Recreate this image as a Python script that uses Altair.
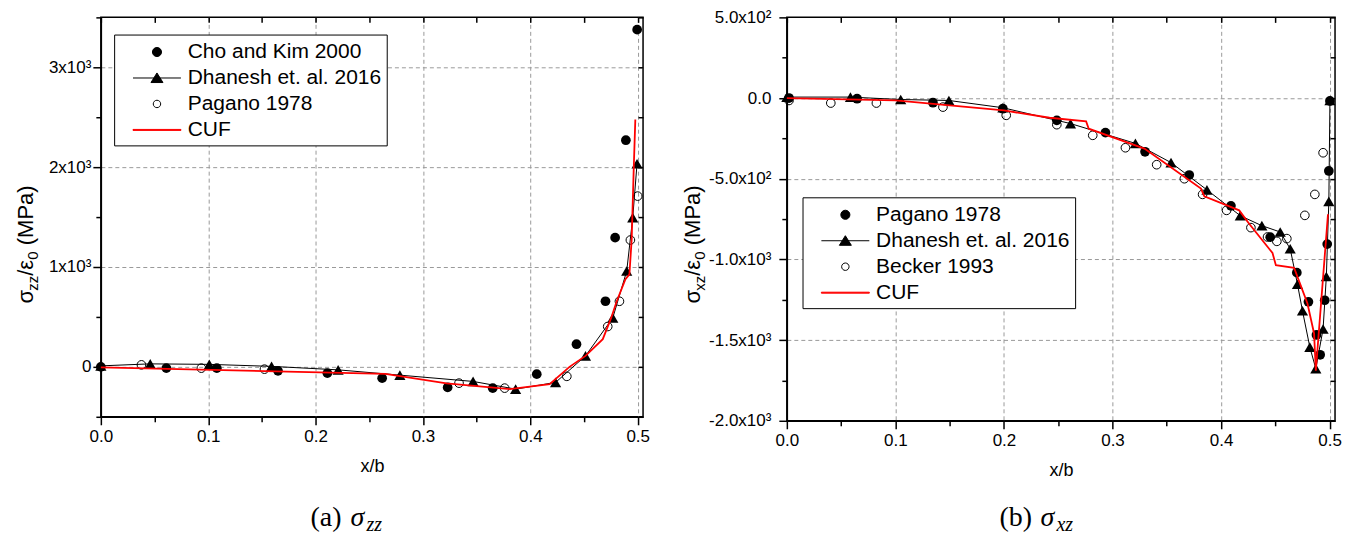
import altair as alt
import pandas as pd

# ---------------- data: panel (a) sigma_zz ----------------
a_cho_x = [0.0, 0.061, 0.108, 0.165, 0.211, 0.262, 0.323, 0.365, 0.406, 0.443, 0.470, 0.479, 0.489, 0.4995]
a_cho_y = [0, -13, -13, -40, -63, -113, -206, -213, -73, 227, 657, 1294, 2270, 3377]

a_dh_x = [0.0, 0.046, 0.101, 0.159, 0.221, 0.2785, 0.3467, 0.3863, 0.4235, 0.4514, 0.4768, 0.4898, 0.4954, 0.4994]
a_dh_y = [10, 30, 25, 5, -30, -83, -146, -223, -156, 110, 490, 960, 1494, 2034]

a_pag_x = [0.0378, 0.0936, 0.1524, 0.3336, 0.3761, 0.434, 0.4721, 0.483, 0.4932, 0.5]
a_pag_y = [20, -13, -23, -163, -213, -95, 404, 657, 1270, 1710]

a_cuf_x = [0.0, 0.265, 0.322, 0.381, 0.418, 0.4365, 0.4514, 0.4675, 0.4753, 0.4805, 0.4886, 0.4923, 0.4944, 0.4963, 0.4978]
a_cuf_y = [-5, -70, -166, -223, -173, 0, 110, 277, 490, 657, 877, 927, 1277, 1977, 2477]

a_names = ["Cho and Kim 2000", "Dhanesh et. al. 2016", "Pagano 1978", "CUF"]

# ---------------- data: panel (b) sigma_xz ----------------
b_pag_x = [0.002, 0.0647, 0.1346, 0.199, 0.2487, 0.2935, 0.33, 0.3707, 0.4091, 0.4453, 0.4698, 0.4805,
           0.4879, 0.4913, 0.4955, 0.4978, 0.4993, 0.5003]
b_pag_y = [0, -4, -29, -66, -138, -214, -333, -477, -668, -862, -1082, -1263, -1468, -1591, -1253, -905, -452, -18]

b_dh_x = [0.0, 0.0586, 0.1049, 0.1493, 0.199, 0.2613, 0.3211, 0.3539, 0.387, 0.4177, 0.4376, 0.4545, 0.4637,
          0.4704, 0.475, 0.4818, 0.4873, 0.494, 0.497, 0.4993, 0.5003]
b_dh_y = [6, 6, -9, -15, -60, -158, -281, -400, -569, -729, -791, -830, -934, -1154, -1318, -1544, -1677,
          -1431, -1106, -640, -15]

b_bk_x = [0.002, 0.0405, 0.0825, 0.1438, 0.2021, 0.2487, 0.2818, 0.3119, 0.3407, 0.3662, 0.383, 0.4051,
          0.4275, 0.4428, 0.4514, 0.4606, 0.4772, 0.4864, 0.494]
b_bk_y = [-15, -31, -31, -56, -107, -165, -231, -308, -413, -500, -597, -696, -803, -861, -888, -871, -727, -597, -339]

b_cuf_x = [0.0, 0.1, 0.2, 0.242, 0.2757, 0.2781, 0.3294, 0.3815, 0.3846, 0.4167, 0.4259, 0.4474, 0.4505,
           0.4673, 0.4704, 0.4796, 0.4857, 0.4873, 0.4985]
b_cuf_y = [0, -15, -77, -122, -145, -190, -313, -561, -609, -696, -779, -960, -1036, -1052, -1108, -1273,
           -1459, -1690, -720]

b_names = ["Pagano 1978", "Dhanesh et. al. 2016", "Becker 1993", "CUF"]

x_ticks = [round(i * 0.05, 2) for i in range(11)]
a_y_ticks = list(range(-500, 3501, 500))
b_y_ticks = list(range(-2000, 501, 250))

# ---------------- style ----------------
FONT = "Liberation Sans, Arial, Helvetica, sans-serif"
SERIF = "Liberation Serif, Times New Roman, serif"
RED = "#ff0000"
GRID = "#9a9a9a"

# legend symbols (path units: 1 unit = 12 px)
SYM_FILLED = "M0.38,0A0.38,0.38,0,1,1,-0.38,0A0.38,0.38,0,1,1,0.38,0Z"
SYM_OPEN = "M0.31,0A0.31,0.31,0,1,1,-0.31,0A0.31,0.31,0,1,1,0.31,0Z"
SYM_TRI_LINE = "M-2,0H2M0,-0.42L0.5,0.38L-0.5,0.38Z"
SYM_LINE = "M-2,-0.04H2V0.04H-2Z"


def xy(xs, ys):
    return pd.DataFrame({"x": xs, "y": ys})


def major_x(expr_v="datum.value"):
    return f"abs({expr_v}*10 - round({expr_v}*10)) < 0.001"


def main_x_axis():
    return alt.Axis(
        values=x_ticks,
        labelExpr=f"{major_x()} ? format(datum.value, '.1f') : ''",
        tickSize={"condition": {"test": major_x(), "value": 8}, "value": 5},
        grid=True,
        gridDash=[4, 3],
        gridColor=GRID,
        gridWidth=1,
        gridOpacity={"condition": {"test": f"{major_x()} && datum.value > 0.001", "value": 1}, "value": 0},
        domainColor="black",
        domainWidth=1.5,
        tickColor="black",
        tickWidth=1.5,
        labelFont=FONT,
        labelFontSize=17,
        labelColor="black",
        labelPadding=4,
        labelFlush=False,
        labelOverlap=False,
        title="x/b",
        titleFont=FONT,
        titleFontSize=18,
        titleFontWeight="normal",
        titleColor="black",
        titlePadding=13,
    )


def main_y_axis(ticks, major, label_expr, grid_test, pad):
    return alt.Axis(
        values=ticks,
        labelExpr=label_expr,
        tickSize={"condition": {"test": f"datum.value % {major} == 0", "value": 8}, "value": 5},
        grid=True,
        gridDash=[4, 3],
        gridColor=GRID,
        gridWidth=1,
        gridOpacity={"condition": {"test": grid_test, "value": 1}, "value": 0},
        domainColor="black",
        domainWidth=1.5,
        tickColor="black",
        tickWidth=1.5,
        labelFont=FONT,
        labelFontSize=17,
        labelColor="black",
        labelPadding=pad,
        labelFlush=False,
        labelOverlap=False,
        title=None,
    )


def mirror_axis(orient, values):
    return alt.Axis(
        orient=orient,
        values=values,
        labels=False,
        domain=False,
        grid=False,
        ticks=True,
        tickSize=5,
        offset=-5,
        tickColor="black",
        tickWidth=1.5,
        title=None,
    )


def txt(text, x, y, size, font=FONT, style="normal", angle=0, align="left", baseline="alphabetic"):
    return alt.Chart(pd.DataFrame({"k": [0]})).mark_text(
        text=text, font=font, fontSize=size, fontStyle=style, angle=angle,
        align=align, baseline=baseline, color="black",
    ).encode(x=alt.value(x), y=alt.value(y))


def anchor(x, y):
    # invisible 1px box that fixes the outer extent of the figure
    return alt.Chart(pd.DataFrame({"k": [0]})).mark_rect(opacity=0, strokeOpacity=0).encode(
        x=alt.value(x), x2=alt.value(x + 1), y=alt.value(y), y2=alt.value(y + 1)
    )


def y_title(x0, bottom, sub, f=22, fs=15):
    # rotated title built from pieces: sigma_sub / epsilon_0 (MPa)
    parts = [("\u03c3", f, 0, 0.58 * f), (sub, fs, 5, 1.0 * fs), ("/\u03b5", f, 0, 0.73 * f),
             ("0", fs, 5, 0.556 * fs + 0.28 * f), ("(MPa)", f, 0, 2.722 * f)]
    out, y = [], bottom
    for text, size, dx, w in parts:
        out.append((text, x0 + dx, y, size, dict(angle=270)))
        y -= w
    return out


def panel(W, H, xscale, yscale, layers, names, shapes, fills, strokes,
          y_ticks, legend_xy, ytitle_pieces, caption_pieces, anchors):
    leg = alt.Legend(
        title=None, orient="none", legendX=legend_xy[0], legendY=legend_xy[1],
        symbolSize=576, symbolStrokeWidth=1, labelFont=FONT, labelFontSize=21,
        labelColor="black", strokeColor="black", fillColor="white", padding=5,
        symbolOffset=25.4, labelOffset=18.3, rowPadding=3, labelLimit=400,
    )
    frame = alt.Chart(pd.DataFrame({"series": names, "x": [None] * 4, "y": [None] * 4})).mark_point(
        filled=True, opacity=1
    ).encode(
        x=alt.X("x:Q", scale=xscale, axis=mirror_axis("top", x_ticks)),
        y=alt.Y("y:Q", scale=yscale, axis=mirror_axis("right", y_ticks)),
        shape=alt.Shape("series:N", scale=alt.Scale(domain=names, range=shapes), legend=leg),
        fill=alt.Fill("series:N", scale=alt.Scale(domain=names, range=fills), legend=leg),
        stroke=alt.Stroke("series:N", scale=alt.Scale(domain=names, range=strokes), legend=leg),
    )
    texts = [txt(*p[:4], **p[4]) for p in ytitle_pieces + caption_pieces]
    anc = [anchor(*a) for a in anchors]
    ch = alt.layer(*layers, frame, *texts, *anc).resolve_axis(x="independent", y="independent").properties(
        width=W, height=H
    )
    return ch


def series_layers(xscale, yscale, x_axis, y_axis, circ_f, dh, circ_o, cuf):
    l_line = alt.Chart(xy(*dh)).mark_line(color="black", strokeWidth=1).encode(
        x=alt.X("x:Q", scale=xscale, axis=x_axis), y=alt.Y("y:Q", scale=yscale, axis=y_axis)
    )
    l_cf = alt.Chart(xy(*circ_f)).mark_point(shape="circle", filled=True, size=95, color="black", opacity=1).encode(
        x=alt.X("x:Q", scale=xscale, axis=None), y=alt.Y("y:Q", scale=yscale, axis=None)
    )
    l_tri = alt.Chart(xy(*dh)).mark_point(shape="triangle-up", filled=True, size=125, color="black", opacity=1).encode(
        x=alt.X("x:Q", scale=xscale, axis=None), y=alt.Y("y:Q", scale=yscale, axis=None)
    )
    l_co = alt.Chart(xy(*circ_o)).mark_point(shape="circle", filled=False, size=75, color="black",
                                            strokeWidth=1, opacity=1).encode(
        x=alt.X("x:Q", scale=xscale, axis=None), y=alt.Y("y:Q", scale=yscale, axis=None)
    )
    l_cuf = alt.Chart(xy(*cuf)).mark_line(color=RED, strokeWidth=1.8).encode(
        x=alt.X("x:Q", scale=xscale, axis=None), y=alt.Y("y:Q", scale=yscale, axis=None)
    )
    return [l_line, l_cf, l_tri, l_co, l_cuf]


TOP = 15.5
LEFT = 100
CAP_F, CAP_SUB = 28, 20
# ---------------- panel (a) ----------------
WA, HA = 543, 400
xs_a = alt.Scale(domain=[0, 0.505], nice=False, zero=False)
ys_a = alt.Scale(domain=[-500, 3500], nice=False, zero=False)
a_label = "datum.value % 1000 == 0 ? (datum.value == 0 ? '0' : (datum.value/1000) + 'x10\u00b3') : ''"
a_grid = "datum.value % 1000 == 0 && datum.value > -500 && datum.value < 3500"
layers_a = series_layers(xs_a, ys_a, main_x_axis(), main_y_axis(a_y_ticks, 1000, a_label, a_grid, 2),
                         (a_cho_x, a_cho_y), (a_dh_x, a_dh_y), (a_pag_x, a_pag_y), (a_cuf_x, a_cuf_y))

a_title = y_title(-68, 302 - TOP, "zz")
a_caption = [
    ("(a)", 210, 525 - TOP, CAP_F, dict(font=SERIF)),
    ("\u03c3", 250, 525 - TOP, CAP_F, dict(font=SERIF, style="italic")),
    ("zz", 266, 530 - TOP, CAP_SUB, dict(font=SERIF, style="italic")),
]
chart_a = panel(WA, HA, xs_a, ys_a, layers_a, a_names,
                [SYM_FILLED, SYM_TRI_LINE, SYM_OPEN, SYM_LINE],
                ["black", "black", "white", RED], ["black", "black", "black", RED],
                a_y_ticks, (13.3, 32.7 - TOP), a_title, a_caption,
                [(-LEFT, -TOP)])

# ---------------- panel (b) ----------------
WB, HB = 549, 404
xs_b = alt.Scale(domain=[0, 0.505], nice=False, zero=False)
ys_b = alt.Scale(domain=[-2000, 500], nice=False, zero=False)
b_label = ("datum.value == 500 ? '5.0x10\u00b2' : datum.value == 0 ? '0.0' : datum.value == -500 ? '-5.0x10\u00b2' : "
           "datum.value == -1000 ? '-1.0x10\u00b3' : datum.value == -1500 ? '-1.5x10\u00b3' : "
           "datum.value == -2000 ? '-2.0x10\u00b3' : ''")
b_grid = "datum.value % 500 == 0 && datum.value > -2000 && datum.value < 500"
layers_b = series_layers(xs_b, ys_b, main_x_axis(), main_y_axis(b_y_ticks, 500, b_label, b_grid, 8),
                         (b_pag_x, b_pag_y), (b_dh_x, b_dh_y), (b_bk_x, b_bk_y), (b_cuf_x, b_cuf_y))
b_title = y_title(-87, 302 - TOP, "xz")
b_caption = [
    ("(b)", 213, 525 - TOP, CAP_F, dict(font=SERIF)),
    ("\u03c3", 254, 525 - TOP, CAP_F, dict(font=SERIF, style="italic")),
    ("xz", 270, 530 - TOP, CAP_SUB, dict(font=SERIF, style="italic")),
]
chart_b = panel(WB, HB, xs_b, ys_b, layers_b, b_names,
                [SYM_FILLED, SYM_TRI_LINE, SYM_OPEN, SYM_LINE],
                ["black", "black", "white", RED], ["black", "black", "black", RED],
                b_y_ticks, (15.7, 195.7 - TOP), b_title, b_caption,
                [(WB + 21 - 1, 539 - TOP - 1)])

chart = alt.hconcat(chart_a, chart_b, spacing=787 - 643, bounds="flush").resolve_scale(
    shape="independent", fill="independent", stroke="independent"
).resolve_legend(shape="independent", fill="independent", stroke="independent").properties(
    padding=0,
    background="white",
).configure_view(stroke="black", strokeWidth=1.5)

chart.save("out.html", embed_options={"renderer": "svg", "actions": False})
